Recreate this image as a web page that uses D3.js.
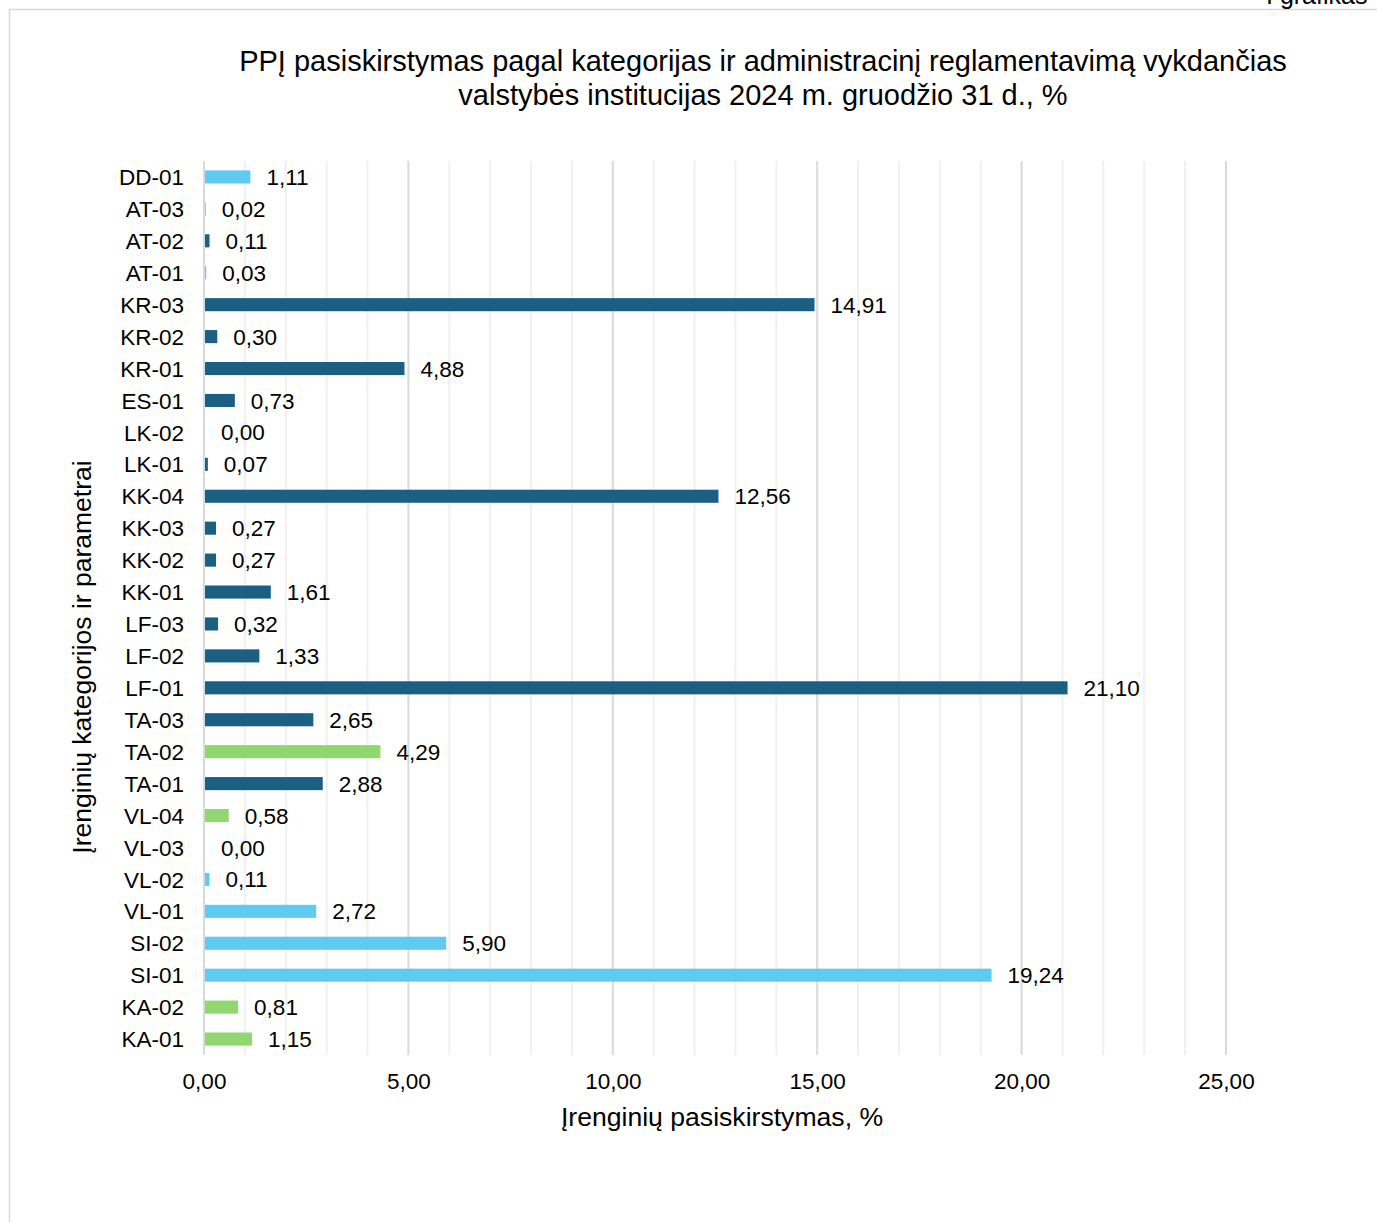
<!DOCTYPE html>
<html><head><meta charset="utf-8">
<script src="https://cdn.jsdelivr.net/npm/d3@7"></script>
<style>body{margin:0;background:#fff}svg{display:block;font-family:"Liberation Sans",Arial,sans-serif}</style>
</head><body>
<svg id="c" width="1377" height="1222"></svg>
<script>
const categories = ["DD-01","AT-03","AT-02","AT-01","KR-03","KR-02","KR-01","ES-01","LK-02","LK-01","KK-04","KK-03","KK-02","KK-01","LF-03","LF-02","LF-01","TA-03","TA-02","TA-01","VL-04","VL-03","VL-02","VL-01","SI-02","SI-01","KA-02","KA-01"];
const values = [1.11,0.02,0.11,0.03,14.91,0.30,4.88,0.73,0.00,0.07,12.56,0.27,0.27,1.61,0.32,1.33,21.10,2.65,4.29,2.88,0.58,0.00,0.11,2.72,5.90,19.24,0.81,1.15];
const groups = ["light","light","dark","light","dark","dark","dark","dark","dark","dark","dark","dark","dark","dark","dark","dark","dark","dark","green","dark","green","light","light","light","light","light","green","green"];
const groupColors = {light:"#5fcbf3", dark:"#1b5f82", green:"#8fd86f"};
const xTicks = [0,5,10,15,20,25];
const titleLines = ["PPĮ pasiskirstymas pagal kategorijas ir administracinį reglamentavimą vykdančias","valstybės institucijas 2024 m. gruodžio 31 d., %"];
const xTitle = "Įrenginių pasiskirstymas, %";
const yTitle = "Įrenginių kategorijos ir parametrai";
const cornerText = "I grafikas";

(function(){
const fmt = v => v.toFixed(2).replace(".", ",");
const svg = d3.select("#c");

svg.append("rect").attr("x",9.5).attr("y",9.5).attr("width",1420).attr("height",1260)
  .attr("fill","none").attr("stroke","#d9d9d9").attr("stroke-width",1.5);
svg.append("text").attr("x",1266).attr("y",4).attr("font-size",25).attr("fill","#000").text(cornerText);

const pl = 204, pr = 1226, pt = 161, pb = 1055;
const x = d3.scaleLinear().domain([0,25]).range([pl,pr]);
const y = d3.scaleBand().domain(categories).range([pt,pb]).paddingInner(0.59).paddingOuter(0.295);

const minor = d3.range(1,26).filter(v => v % 5 !== 0);
svg.append("g").selectAll("line").data(minor).join("line")
  .attr("x1",d=>x(d)).attr("x2",d=>x(d)).attr("y1",pt).attr("y2",pb)
  .attr("stroke","#f0f0f0").attr("stroke-width",2);
svg.append("g").selectAll("line").data(xTicks).join("line")
  .attr("x1",d=>x(d)).attr("x2",d=>x(d)).attr("y1",pt).attr("y2",pb)
  .attr("stroke","#d9d9d9").attr("stroke-width",2);

svg.append("g").selectAll("rect").data(categories).join("rect")
  .attr("x",x(0)+1).attr("y",d=>y(d))
  .attr("width",(d,i)=>Math.max(0,x(values[i])-x(0)))
  .attr("height",y.bandwidth())
  .attr("fill",(d,i)=>groupColors[groups[i]]);

svg.append("g").selectAll("text").data(categories).join("text")
  .attr("x",(d,i)=>x(values[i])+17).attr("y",d=>y(d)+y.bandwidth()/2)
  .attr("dy","0.36em").attr("font-size",22.5).attr("fill","#000")
  .text((d,i)=>fmt(values[i]));

const yAxis = d3.axisLeft(y).tickSize(0).tickPadding(20);
const gy = svg.append("g").attr("transform",`translate(${pl},0)`).call(yAxis);
gy.select(".domain").remove();
gy.selectAll("text").attr("font-size",22.5).attr("fill","#000").attr("font-family",null).attr("dy","0.36em");

const xAxis = d3.axisBottom(x).tickValues(xTicks).tickSize(0).tickPadding(0).tickFormat(fmt);
const gx = svg.append("g").attr("transform",`translate(0,${pb+26})`).call(xAxis);
gx.select(".domain").remove();
gx.selectAll("text").attr("font-size",22.5).attr("fill","#000").attr("font-family",null).attr("dy","0.36em");

svg.append("g").selectAll("text").data(titleLines).join("text")
  .attr("x",763).attr("y",(d,i)=>71+i*34).attr("text-anchor","middle")
  .attr("font-size",29).attr("fill","#000").text(d=>d);
svg.append("text").attr("x",722).attr("y",1126).attr("text-anchor","middle")
  .attr("font-size",26.6).attr("fill","#000").text(xTitle);
svg.append("text").attr("transform","translate(91,657) rotate(-90)").attr("text-anchor","middle")
  .attr("font-size",26.5).attr("fill","#000").text(yTitle);
})();
</script>
</body></html>
